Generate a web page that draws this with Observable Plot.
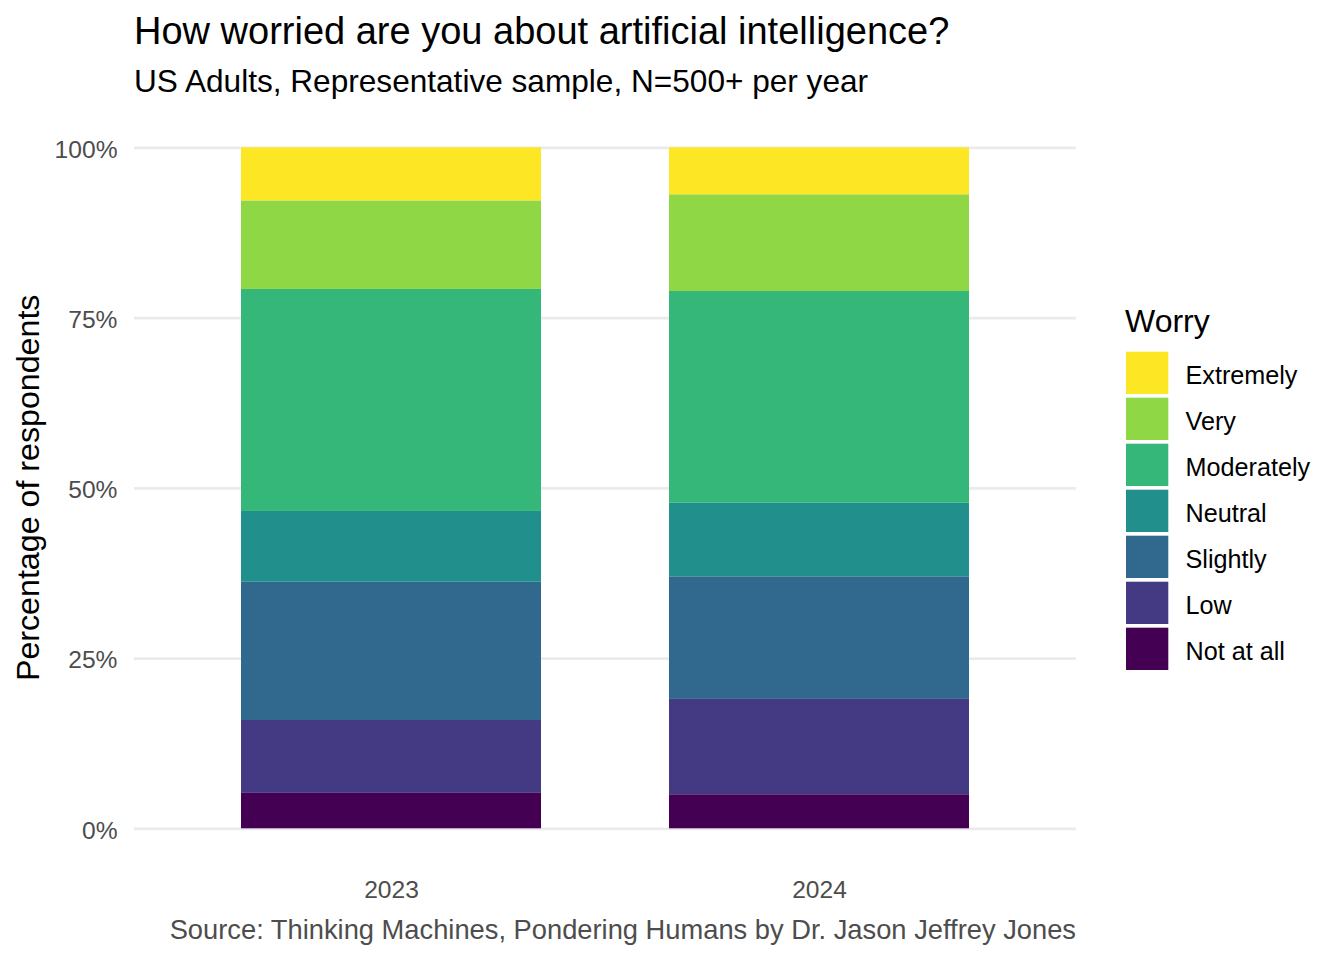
<!DOCTYPE html>
<html>
<head>
<meta charset="utf-8">
<script src="https://cdn.jsdelivr.net/npm/d3@7"></script>
<script src="https://cdn.jsdelivr.net/npm/@observablehq/plot@0.6"></script>
<style>
  html, body { margin: 0; padding: 0; background: #ffffff; }
  #chart { position: relative; width: 1344px; height: 960px; }
</style>
</head>
<body>
<div id="chart"></div>
<script>
// ---- data ----
const years = ["2023", "2024"];
const worryLevels = ["Not at all", "Low", "Slightly", "Neutral", "Moderately", "Very", "Extremely"];
const pct2023 = [5.2, 10.7, 20.3, 10.4, 32.6, 13.0, 7.8];
const pct2024 = [5.0, 14.0, 18.0, 10.8, 31.1, 14.2, 6.9];
const yTicks = [0, 25, 50, 75, 100];
const viridis7 = ["#440154", "#443A83", "#31688E", "#21908C", "#35B779", "#8FD744", "#FDE725"];

const titleText = "How worried are you about artificial intelligence?";
const subtitleText = "US Adults, Representative sample, N=500+ per year";
const captionText = "Source: Thinking Machines, Pondering Humans by Dr. Jason Jeffrey Jones";
const yLabelText = "Percentage of respondents";
const legendTitle = "Worry";

const seriesByYear = [pct2023, pct2024];
const rows = [];
years.forEach((yr, i) => {
  worryLevels.forEach((w, j) => rows.push({year: yr, worry: w, pct: seriesByYear[i][j]}));
});

// ---- chart ----
const W = 1344, H = 960;
const fontFamily = "'Liberation Sans', Arial, Helvetica, sans-serif";

const plot = Plot.plot({
  width: W,
  height: H,
  marginTop: 113.25,
  marginBottom: 97.65,
  marginLeft: 134,
  marginRight: 268,
  style: {fontFamily: fontFamily, fontSize: "24.6px", background: "#ffffff"},
  x: {type: "band", domain: years, paddingInner: 0.3, paddingOuter: 0.25, axis: null},
  y: {domain: [-5, 105], axis: null},
  color: {type: "ordinal", domain: worryLevels, range: viridis7},
  marks: [
    Plot.gridY(yTicks, {stroke: "#EBEBEB", strokeOpacity: 1, strokeWidth: 2.7}),
    Plot.barY(rows, {x: "year", y: "pct", fill: "worry"}),
    Plot.axisY(yTicks, {tickSize: 0, tickPadding: 17, tickFormat: d => d + "%", color: "#4D4D4D", label: null, dy: 2}),
    Plot.axisX(years, {tickSize: 0, tickPadding: 17.6, color: "#4D4D4D", label: null})
  ]
});

document.getElementById("chart").appendChild(plot);

const svg = d3.select(plot);

// Title & subtitle
svg.append("text")
  .attr("x", 134).attr("y", 44)
  .attr("text-anchor", "start")
  .attr("font-size", "38px")
  .attr("fill", "#000000")
  .text(titleText);

svg.append("text")
  .attr("x", 134).attr("y", 91.7)
  .attr("text-anchor", "start")
  .attr("font-size", "31.6px")
  .attr("fill", "#000000")
  .text(subtitleText);

// Y axis title
svg.append("text")
  .attr("transform", "translate(39,487.8) rotate(-90)")
  .attr("text-anchor", "middle")
  .attr("font-size", "32.2px")
  .attr("fill", "#000000")
  .text(yLabelText);

// Caption
svg.append("text")
  .attr("x", 1076).attr("y", 938.5)
  .attr("text-anchor", "end")
  .attr("font-size", "27.3px")
  .attr("fill", "#4D4D4D")
  .text(captionText);

// Legend (uses the plot's own color scale)
const colorScale = plot.scale("color");
const legend = svg.append("g");
legend.append("text")
  .attr("x", 1125).attr("y", 331.7)
  .attr("text-anchor", "start")
  .attr("font-size", "32px")
  .attr("fill", "#000000")
  .text(legendTitle);

const legendOrder = worryLevels.slice().reverse();
legendOrder.forEach((lvl, i) => {
  const y0 = 351.7 + i * 46.0;
  legend.append("rect")
    .attr("x", 1126).attr("y", y0)
    .attr("width", 42.3).attr("height", 42.3)
    .attr("fill", colorScale.apply(lvl));
  legend.append("text")
    .attr("x", 1185.5).attr("y", y0 + 21.15 + 11.5)
    .attr("text-anchor", "start")
    .attr("font-size", "25.2px")
    .attr("fill", "#000000")
    .text(lvl);
});
</script>
</body>
</html>
